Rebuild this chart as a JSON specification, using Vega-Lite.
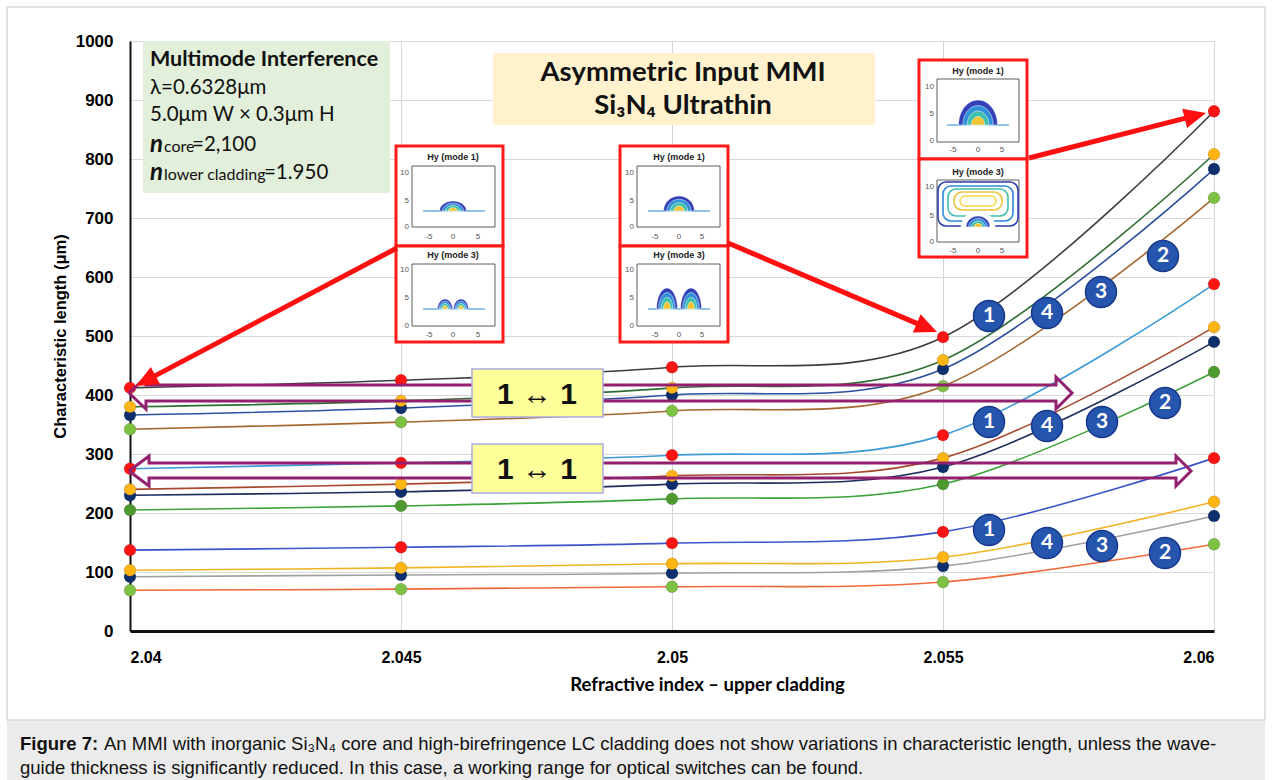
{
  "$schema": "https://vega.github.io/schema/vega-lite/v6.json",
  "width": 1084,
  "height": 590,
  "autosize": {"type": "none"},
  "padding": {"left": 130, "top": 41, "right": 59, "bottom": 149},
  "background": "white",
  "config": {"view": {"stroke": null}},
  "datasets": {
    "series": [
      {"s": "T2", "n": 2.04, "L": 342}, {"s": "T2", "n": 2.045, "L": 354}, {"s": "T2", "n": 2.05, "L": 373}, {"s": "T2", "n": 2.055, "L": 415}, {"s": "T2", "n": 2.06, "L": 734},
      {"s": "T3", "n": 2.04, "L": 366}, {"s": "T3", "n": 2.045, "L": 378}, {"s": "T3", "n": 2.05, "L": 400}, {"s": "T3", "n": 2.055, "L": 444}, {"s": "T3", "n": 2.06, "L": 783},
      {"s": "T4", "n": 2.04, "L": 380}, {"s": "T4", "n": 2.045, "L": 390}, {"s": "T4", "n": 2.05, "L": 412}, {"s": "T4", "n": 2.055, "L": 459}, {"s": "T4", "n": 2.06, "L": 808},
      {"s": "T1", "n": 2.04, "L": 412}, {"s": "T1", "n": 2.045, "L": 425}, {"s": "T1", "n": 2.05, "L": 447}, {"s": "T1", "n": 2.055, "L": 498}, {"s": "T1", "n": 2.06, "L": 881},
      {"s": "M2", "n": 2.04, "L": 205}, {"s": "M2", "n": 2.045, "L": 212}, {"s": "M2", "n": 2.05, "L": 224}, {"s": "M2", "n": 2.055, "L": 249}, {"s": "M2", "n": 2.06, "L": 439},
      {"s": "M3", "n": 2.04, "L": 230}, {"s": "M3", "n": 2.045, "L": 236}, {"s": "M3", "n": 2.05, "L": 249}, {"s": "M3", "n": 2.055, "L": 278}, {"s": "M3", "n": 2.06, "L": 490},
      {"s": "M4", "n": 2.04, "L": 240}, {"s": "M4", "n": 2.045, "L": 249}, {"s": "M4", "n": 2.05, "L": 263}, {"s": "M4", "n": 2.055, "L": 293}, {"s": "M4", "n": 2.06, "L": 515},
      {"s": "M1", "n": 2.04, "L": 275}, {"s": "M1", "n": 2.045, "L": 285}, {"s": "M1", "n": 2.05, "L": 298}, {"s": "M1", "n": 2.055, "L": 332}, {"s": "M1", "n": 2.06, "L": 588},
      {"s": "B2", "n": 2.04, "L": 69}, {"s": "B2", "n": 2.045, "L": 71}, {"s": "B2", "n": 2.05, "L": 75}, {"s": "B2", "n": 2.055, "L": 83}, {"s": "B2", "n": 2.06, "L": 147},
      {"s": "B3", "n": 2.04, "L": 92}, {"s": "B3", "n": 2.045, "L": 95}, {"s": "B3", "n": 2.05, "L": 98}, {"s": "B3", "n": 2.055, "L": 110}, {"s": "B3", "n": 2.06, "L": 195},
      {"s": "B4", "n": 2.04, "L": 103}, {"s": "B4", "n": 2.045, "L": 107}, {"s": "B4", "n": 2.05, "L": 114}, {"s": "B4", "n": 2.055, "L": 125}, {"s": "B4", "n": 2.06, "L": 219},
      {"s": "B1", "n": 2.04, "L": 137}, {"s": "B1", "n": 2.045, "L": 142}, {"s": "B1", "n": 2.05, "L": 149}, {"s": "B1", "n": 2.055, "L": 168}, {"s": "B1", "n": 2.06, "L": 293}
    ]
  },
  "resolve": {"scale": {"fill": "independent", "stroke": "independent", "shape": "independent", "size": "independent"}},
  "layer": [
    {
      "data": {"values": [{"x": 2.037731, "x2": 2.060941, "y": -150.8, "y2": -252.5}]},
      "mark": {"type": "rect", "fill": "#ebebeb", "clip": false},
      "encoding": {
        "x": {"field": "x", "type": "quantitative", "scale": {"domain": [2.04, 2.06], "nice": false, "zero": false},
          "axis": {"values": [2.04, 2.045, 2.05, 2.055, 2.06], "format": ".4~g", "ticks": false, "grid": true, "gridColor": "#d4d4d4", "gridWidth": 1,
            "domainColor": "#111111", "domainWidth": 3, "labelFont": "Liberation Sans", "labelFontWeight": "bold", "labelFontSize": 16, "labelColor": "#000000", "labelPadding": 18,
            "title": "Refractive index – upper cladding", "titleFont": "Lato", "titleFontWeight": "bold", "titleFontSize": 18.5, "titleColor": "#000000",
            "titleX": 577, "titleY": 53, "titleAlign": "center", "titleBaseline": "middle"}},
        "x2": {"field": "x2"},
        "y": {"field": "y", "type": "quantitative", "scale": {"domain": [0, 1000], "nice": false, "zero": false},
          "axis": {"values": [0, 100, 200, 300, 400, 500, 600, 700, 800, 900, 1000], "format": "d", "ticks": false, "grid": true, "gridColor": "#d9d9d9", "gridWidth": 1,
            "domainColor": "#111111", "domainWidth": 2, "labelFont": "Liberation Sans", "labelFontWeight": "bold", "labelFontSize": 17, "labelColor": "#000000", "labelPadding": 17,
            "title": "Characteristic length (μm)", "titleFont": "Liberation Sans", "titleFontWeight": "bold", "titleFontSize": 16.5, "titleColor": "#000000",
            "titleX": -70, "titleY": 295, "titleAngle": 270, "titleAlign": "center", "titleBaseline": "middle"}},
        "y2": {"field": "y2"}
      }
    },
    {
      "data": {"values": [{"x": 2.037731, "x2": 2.060941, "y": 1057.6, "y2": -150.8}]},
      "mark": {"type": "rect", "fill": null, "stroke": "#d9d9d9", "strokeWidth": 1.5, "clip": false},
      "encoding": {
        "x": {"field": "x", "type": "quantitative", "scale": {"domain": [2.04, 2.06], "nice": false, "zero": false}},
        "x2": {"field": "x2"},
        "y": {"field": "y", "type": "quantitative", "scale": {"domain": [0, 1000], "nice": false, "zero": false}},
        "y2": {"field": "y2"}
      }
    },
    {
      "data": {"values": [{"x": 2.04024, "x2": 2.044797, "y": 1000, "y2": 742.4}]},
      "mark": {"type": "rect", "fill": "#e2efda"},
      "encoding": {
        "x": {"field": "x", "type": "quantitative", "scale": {"domain": [2.04, 2.06], "nice": false, "zero": false}},
        "x2": {"field": "x2"},
        "y": {"field": "y", "type": "quantitative", "scale": {"domain": [0, 1000], "nice": false, "zero": false}},
        "y2": {"field": "y2"}
      }
    },
    {
      "data": {"values": [{"x": 2.046697, "x2": 2.053745, "y": 979.7, "y2": 857.6}]},
      "mark": {"type": "rect", "fill": "#fff2cc"},
      "encoding": {
        "x": {"field": "x", "type": "quantitative", "scale": {"domain": [2.04, 2.06], "nice": false, "zero": false}},
        "x2": {"field": "x2"},
        "y": {"field": "y", "type": "quantitative", "scale": {"domain": [0, 1000], "nice": false, "zero": false}},
        "y2": {"field": "y2"}
      }
    },
    {
      "data": {"name": "series"},
      "mark": {"type": "line", "interpolate": "cardinal", "strokeWidth": 1.6},
      "encoding": {
        "x": {"field": "n", "type": "quantitative", "scale": {"domain": [2.04, 2.06], "nice": false, "zero": false}},
        "y": {"field": "L", "type": "quantitative", "scale": {"domain": [0, 1000], "nice": false, "zero": false}},
        "stroke": {"field": "s", "type": "nominal", "legend": null,
          "scale": {"domain": ["T1", "T4", "T3", "T2", "M1", "M4", "M3", "M2", "B1", "B4", "B3", "B2"],
            "range": ["#3d3d3d", "#2f6e33", "#2c4f9e", "#a4672f", "#3d9ad6", "#a84a30", "#1d2d5c", "#3da33a", "#3b55c8", "#f2b324", "#a0a0a0", "#ef6a3a"]}}
      }
    },
    {
      "data": {"name": "series"},
      "mark": {"type": "point", "shape": "circle", "filled": true, "opacity": 1, "size": 140, "stroke": "#000000", "strokeOpacity": 0.15, "strokeWidth": 1},
      "encoding": {
        "x": {"field": "n", "type": "quantitative", "scale": {"domain": [2.04, 2.06], "nice": false, "zero": false}},
        "y": {"field": "L", "type": "quantitative", "scale": {"domain": [0, 1000], "nice": false, "zero": false}},
        "fill": {"field": "s", "type": "nominal", "legend": null,
          "scale": {"domain": ["T1", "T4", "T3", "T2", "M1", "M4", "M3", "M2", "B1", "B4", "B3", "B2"],
            "range": ["#ff1414", "#ffb514", "#0d2f6e", "#7dc142", "#ff1414", "#ffb514", "#0d2f6e", "#4e9a2e", "#ff1414", "#ffb514", "#0d2f6e", "#7dc142"]}}
      }
    },
    {
      "data": {"values": [
        {"id": "a", "o": 0, "x": 2.039982, "y": 403.4}, {"id": "a", "o": 1, "x": 2.040295, "y": 430.5}, {"id": "a", "o": 2, "x": 2.040295, "y": 416.9},
        {"id": "a", "o": 3, "x": 2.057085, "y": 416.9}, {"id": "a", "o": 4, "x": 2.057085, "y": 430.5}, {"id": "a", "o": 5, "x": 2.05738, "y": 403.4},
        {"id": "a", "o": 6, "x": 2.057085, "y": 376.3}, {"id": "a", "o": 7, "x": 2.057085, "y": 389.8}, {"id": "a", "o": 8, "x": 2.040295, "y": 389.8},
        {"id": "a", "o": 9, "x": 2.040295, "y": 376.3}, {"id": "a", "o": 10, "x": 2.039982, "y": 403.4},
        {"id": "b", "o": 0, "x": 2.039982, "y": 271.2}, {"id": "b", "o": 1, "x": 2.040351, "y": 296.6}, {"id": "b", "o": 2, "x": 2.040351, "y": 284.7},
        {"id": "b", "o": 3, "x": 2.059299, "y": 284.7}, {"id": "b", "o": 4, "x": 2.059299, "y": 296.6}, {"id": "b", "o": 5, "x": 2.059576, "y": 271.2},
        {"id": "b", "o": 6, "x": 2.059299, "y": 245.8}, {"id": "b", "o": 7, "x": 2.059299, "y": 259.3}, {"id": "b", "o": 8, "x": 2.040351, "y": 259.3},
        {"id": "b", "o": 9, "x": 2.040351, "y": 245.8}, {"id": "b", "o": 10, "x": 2.039982, "y": 271.2}
      ]},
      "mark": {"type": "line", "color": "#93206f", "strokeWidth": 3, "strokeJoin": "miter", "clip": false},
      "encoding": {
        "x": {"field": "x", "type": "quantitative", "scale": {"domain": [2.04, 2.06], "nice": false, "zero": false}},
        "y": {"field": "y", "type": "quantitative", "scale": {"domain": [0, 1000], "nice": false, "zero": false}},
        "detail": {"field": "id"},
        "order": {"field": "o", "type": "quantitative"}
      }
    },
    {
      "data": {"values": [{"x": 2.04631, "x2": 2.048727, "y": 444.1, "y2": 362.7}, {"x": 2.04631, "x2": 2.048727, "y": 316.9, "y2": 233.9}]},
      "mark": {"type": "rect", "fill": "#ffff99", "stroke": "#aaaadf", "strokeWidth": 1.5},
      "encoding": {
        "x": {"field": "x", "type": "quantitative", "scale": {"domain": [2.04, 2.06], "nice": false, "zero": false}},
        "x2": {"field": "x2"},
        "y": {"field": "y", "type": "quantitative", "scale": {"domain": [0, 1000], "nice": false, "zero": false}},
        "y2": {"field": "y2"}
      }
    },
    {
      "data": {"values": [{"t": "1 ↔ 1", "x": 2.047509, "y": 400.0}, {"t": "1 ↔ 1", "x": 2.047509, "y": 272.9}]},
      "mark": {"type": "text", "font": "Liberation Sans", "fontWeight": "bold", "fontSize": 30, "color": "#111111", "align": "center", "baseline": "middle"},
      "encoding": {
        "x": {"field": "x", "type": "quantitative", "scale": {"domain": [2.04, 2.06], "nice": false, "zero": false}},
        "y": {"field": "y", "type": "quantitative", "scale": {"domain": [0, 1000], "nice": false, "zero": false}},
        "text": {"field": "t"}
      }
    },
    {
      "data": {"name": "badges", "values": [
        {"t": "1", "x": 2.055849, "y": 533.9}, {"t": "4", "x": 2.056919, "y": 539.0}, {"t": "3", "x": 2.057915, "y": 574.6}, {"t": "2", "x": 2.059059, "y": 635.6},
        {"t": "1", "x": 2.055849, "y": 354.2}, {"t": "4", "x": 2.056919, "y": 347.5}, {"t": "3", "x": 2.057934, "y": 354.2}, {"t": "2", "x": 2.059096, "y": 386.4},
        {"t": "1", "x": 2.055849, "y": 171.2}, {"t": "4", "x": 2.056919, "y": 149.2}, {"t": "3", "x": 2.057934, "y": 144.1}, {"t": "2", "x": 2.059096, "y": 132.2}
      ]},
      "mark": {"type": "point", "shape": "circle", "filled": true, "opacity": 1, "size": 960, "fill": "#2655ad", "stroke": "#17388a", "strokeWidth": 1.5},
      "encoding": {
        "x": {"field": "x", "type": "quantitative", "scale": {"domain": [2.04, 2.06], "nice": false, "zero": false}},
        "y": {"field": "y", "type": "quantitative", "scale": {"domain": [0, 1000], "nice": false, "zero": false}}
      }
    },
    {
      "data": {"name": "badges"},
      "mark": {"type": "text", "font": "Lato", "fontWeight": "bold", "fontSize": 21, "color": "#ffffff", "align": "center", "baseline": "middle"},
      "encoding": {
        "x": {"field": "x", "type": "quantitative", "scale": {"domain": [2.04, 2.06], "nice": false, "zero": false}},
        "y": {"field": "y", "type": "quantitative", "scale": {"domain": [0, 1000], "nice": false, "zero": false}},
        "text": {"field": "t"}
      }
    },
    {
      "data": {"values": [
        {"x": 2.044908, "x2": 2.046882, "y": 822.0, "y2": 652.5}, {"x": 2.044908, "x2": 2.046882, "y": 652.5, "y2": 489.8},
        {"x": 2.049041, "x2": 2.051033, "y": 822.0, "y2": 652.5}, {"x": 2.049041, "x2": 2.051033, "y": 652.5, "y2": 489.8},
        {"x": 2.054557, "x2": 2.05655, "y": 967.8, "y2": 800.0}, {"x": 2.054557, "x2": 2.05655, "y": 800.0, "y2": 633.9}
      ]},
      "mark": {"type": "rect", "fill": "#ffffff", "stroke": "#ff1a1a", "strokeWidth": 3},
      "encoding": {
        "x": {"field": "x", "type": "quantitative", "scale": {"domain": [2.04, 2.06], "nice": false, "zero": false}},
        "x2": {"field": "x2"},
        "y": {"field": "y", "type": "quantitative", "scale": {"domain": [0, 1000], "nice": false, "zero": false}},
        "y2": {"field": "y2"}
      }
    },
    {
      "data": {"values": [
        {"x": 2.045203, "x2": 2.046734, "y": 788.1, "y2": 684.7}, {"x": 2.045203, "x2": 2.046734, "y": 622.0, "y2": 516.9},
        {"x": 2.049354, "x2": 2.050886, "y": 788.1, "y2": 684.7}, {"x": 2.049354, "x2": 2.050886, "y": 622.0, "y2": 516.9},
        {"x": 2.054889, "x2": 2.056402, "y": 935.6, "y2": 828.8}, {"x": 2.054889, "x2": 2.056402, "y": 764.4, "y2": 659.3}
      ]},
      "mark": {"type": "rect", "fill": null, "stroke": "#4a4a4a", "strokeWidth": 0.9},
      "encoding": {
        "x": {"field": "x", "type": "quantitative", "scale": {"domain": [2.04, 2.06], "nice": false, "zero": false}},
        "x2": {"field": "x2"},
        "y": {"field": "y", "type": "quantitative", "scale": {"domain": [0, 1000], "nice": false, "zero": false}},
        "y2": {"field": "y2"}
      }
    },
    {
      "data": {"values": [
        {"x": 2.045406, "x2": 2.04655, "y": 711.9}, {"x": 2.045406, "x2": 2.04655, "y": 545.8},
        {"x": 2.049557, "x2": 2.050701, "y": 711.9}, {"x": 2.049557, "x2": 2.050701, "y": 545.8},
        {"x": 2.055074, "x2": 2.056218, "y": 857.6}
      ]},
      "mark": {"type": "rule", "color": "#6aaee0", "strokeWidth": 1.3},
      "encoding": {
        "x": {"field": "x", "type": "quantitative", "scale": {"domain": [2.04, 2.06], "nice": false, "zero": false}},
        "x2": {"field": "x2"},
        "y": {"field": "y", "type": "quantitative", "scale": {"domain": [0, 1000], "nice": false, "zero": false}}
      }
    },
    {
      "data": {"values": [
        {"ring": "r0", "x": 2.054908, "x2": 2.056384, "y": 761.0, "y2": 686.4},
        {"ring": "r1", "x": 2.055000, "x2": 2.056292, "y": 754.2, "y2": 694.9},
        {"ring": "r2", "x": 2.055092, "x2": 2.056199, "y": 749.2, "y2": 703.4},
        {"ring": "r3", "x": 2.055203, "x2": 2.056089, "y": 744.1, "y2": 713.6},
        {"ring": "r4", "x": 2.055314, "x2": 2.055978, "y": 737.3, "y2": 720.3}
      ]},
      "mark": {"type": "rect", "fill": null, "strokeWidth": 1.6, "cornerRadius": 8},
      "encoding": {
        "x": {"field": "x", "type": "quantitative", "scale": {"domain": [2.04, 2.06], "nice": false, "zero": false}},
        "x2": {"field": "x2"},
        "y": {"field": "y", "type": "quantitative", "scale": {"domain": [0, 1000], "nice": false, "zero": false}},
        "y2": {"field": "y2"},
        "stroke": {"field": "ring", "type": "nominal", "legend": null,
          "scale": {"domain": ["r0", "r1", "r2", "r3", "r4"], "range": ["#2b3fb0", "#2e8bd6", "#3fbfae", "#e8c43a", "#f5d84a"]}}
      }
    },
    {
      "data": {"values": [
        {"k": "A1-0", "ring": "r0", "x": 2.045959, "y": 711.9}, {"k": "A1-1", "ring": "r1", "x": 2.045959, "y": 711.9}, {"k": "A1-2", "ring": "r2", "x": 2.045959, "y": 711.9}, {"k": "A1-3", "ring": "r3", "x": 2.045959, "y": 711.9},
        {"k": "A2-0", "ring": "r0", "x": 2.045812, "y": 545.8}, {"k": "A2-1", "ring": "r1", "x": 2.045812, "y": 545.8}, {"k": "A2-2", "ring": "r2", "x": 2.045812, "y": 545.8}, {"k": "A2-3", "ring": "r3", "x": 2.045812, "y": 545.8},
        {"k": "A2-0", "ring": "r0", "x": 2.046107, "y": 545.8}, {"k": "A2-1", "ring": "r1", "x": 2.046107, "y": 545.8}, {"k": "A2-2", "ring": "r2", "x": 2.046107, "y": 545.8}, {"k": "A2-3", "ring": "r3", "x": 2.046107, "y": 545.8},
        {"k": "B1-0", "ring": "r0", "x": 2.050129, "y": 711.9}, {"k": "B1-1", "ring": "r1", "x": 2.050129, "y": 711.9}, {"k": "B1-2", "ring": "r2", "x": 2.050129, "y": 711.9}, {"k": "B1-3", "ring": "r3", "x": 2.050129, "y": 711.9},
        {"k": "B2-0", "ring": "r0", "x": 2.049908, "y": 545.8}, {"k": "B2-1", "ring": "r1", "x": 2.049908, "y": 545.8}, {"k": "B2-2", "ring": "r2", "x": 2.049908, "y": 545.8}, {"k": "B2-3", "ring": "r3", "x": 2.049908, "y": 545.8},
        {"k": "B2-0", "ring": "r0", "x": 2.050351, "y": 545.8}, {"k": "B2-1", "ring": "r1", "x": 2.050351, "y": 545.8}, {"k": "B2-2", "ring": "r2", "x": 2.050351, "y": 545.8}, {"k": "B2-3", "ring": "r3", "x": 2.050351, "y": 545.8},
        {"k": "C1-0", "ring": "r0", "x": 2.055646, "y": 857.6}, {"k": "C1-1", "ring": "r1", "x": 2.055646, "y": 857.6}, {"k": "C1-2", "ring": "r2", "x": 2.055646, "y": 857.6}, {"k": "C1-3", "ring": "r3", "x": 2.055646, "y": 857.6},
        {"k": "C3-bg", "ring": "bg", "x": 2.055646, "y": 684.7}, {"k": "C3-0", "ring": "r0", "x": 2.055646, "y": 684.7}, {"k": "C3-1", "ring": "r1", "x": 2.055646, "y": 684.7}, {"k": "C3-2", "ring": "r2", "x": 2.055646, "y": 684.7}, {"k": "C3-3", "ring": "r3", "x": 2.055646, "y": 684.7}
      ]},
      "mark": {"type": "point", "filled": true, "opacity": 1, "size": 100, "stroke": "#ffffff", "strokeWidth": 0.5},
      "encoding": {
        "x": {"field": "x", "type": "quantitative", "scale": {"domain": [2.04, 2.06], "nice": false, "zero": false}},
        "y": {"field": "y", "type": "quantitative", "scale": {"domain": [0, 1000], "nice": false, "zero": false}},
        "fill": {"field": "ring", "type": "nominal", "legend": null,
          "scale": {"domain": ["bg", "r0", "r1", "r2", "r3"], "range": ["#ffffff", "#3340b8", "#2f8fd8", "#3fc0ad", "#f0c332"]}},
        "shape": {"field": "k", "type": "nominal", "legend": null,
          "scale": {
            "domain": ["A1-0", "A1-1", "A1-2", "A1-3", "A2-0", "A2-1", "A2-2", "A2-3", "B1-0", "B1-1", "B1-2", "B1-3", "B2-0", "B2-1", "B2-2", "B2-3", "C1-0", "C1-1", "C1-2", "C1-3", "C3-bg", "C3-0", "C3-1", "C3-2", "C3-3"],
            "range": [
              "M-2.7 0C-2.7 -1.1 -1.49 -2 0 -2C1.49 -2 2.7 -1.1 2.7 0Z",
              "M-2.11 0C-2.11 -0.86 -1.16 -1.56 0 -1.56C1.16 -1.56 2.11 -0.86 2.11 0Z",
              "M-1.51 0C-1.51 -0.62 -0.83 -1.12 0 -1.12C0.83 -1.12 1.51 -0.62 1.51 0Z",
              "M-0.92 0C-0.92 -0.38 -0.51 -0.68 0 -0.68C0.51 -0.68 0.92 -0.38 0.92 0Z",
              "M-1.5 0C-1.5 -1.1 -0.83 -2 0 -2C0.83 -2 1.5 -1.1 1.5 0Z",
              "M-1.17 0C-1.17 -0.86 -0.65 -1.56 0 -1.56C0.65 -1.56 1.17 -0.86 1.17 0Z",
              "M-0.84 0C-0.84 -0.62 -0.46 -1.12 0 -1.12C0.46 -1.12 0.84 -0.62 0.84 0Z",
              "M-0.51 0C-0.51 -0.38 -0.28 -0.68 0 -0.68C0.28 -0.68 0.51 -0.38 0.51 0Z",
              "M-3.1 0C-3.1 -1.66 -1.71 -3 0 -3C1.71 -3 3.1 -1.66 3.1 0Z",
              "M-2.42 0C-2.42 -1.29 -1.34 -2.34 0 -2.34C1.34 -2.34 2.42 -1.29 2.42 0Z",
              "M-1.74 0C-1.74 -0.93 -0.96 -1.68 0 -1.68C0.96 -1.68 1.74 -0.93 1.74 0Z",
              "M-1.05 0C-1.05 -0.56 -0.58 -1.02 0 -1.02C0.58 -1.02 1.05 -0.56 1.05 0Z",
              "M-2.1 0C-2.1 -2.32 -1.16 -4.2 0 -4.2C1.16 -4.2 2.1 -2.32 2.1 0Z",
              "M-1.64 0C-1.64 -1.81 -0.9 -3.28 0 -3.28C0.9 -3.28 1.64 -1.81 1.64 0Z",
              "M-1.18 0C-1.18 -1.3 -0.65 -2.35 0 -2.35C0.65 -2.35 1.18 -1.3 1.18 0Z",
              "M-0.71 0C-0.71 -0.79 -0.39 -1.43 0 -1.43C0.39 -1.43 0.71 -0.79 0.71 0Z",
              "M-3.9 0C-3.9 -2.76 -2.15 -5 0 -5C2.15 -5 3.9 -2.76 3.9 0Z",
              "M-3.04 0C-3.04 -2.15 -1.68 -3.9 0 -3.9C1.68 -3.9 3.04 -2.15 3.04 0Z",
              "M-2.18 0C-2.18 -1.55 -1.2 -2.8 0 -2.8C1.2 -2.8 2.18 -1.55 2.18 0Z",
              "M-1.33 0C-1.33 -0.94 -0.73 -1.7 0 -1.7C0.73 -1.7 1.33 -0.94 1.33 0Z",
              "M-3.4 0C-3.4 -1.77 -1.88 -3.2 0 -3.2C1.88 -3.2 3.4 -1.77 3.4 0Z",
              "M-2.4 0C-2.4 -1.21 -1.32 -2.2 0 -2.2C1.32 -2.2 2.4 -1.21 2.4 0Z",
              "M-1.87 0C-1.87 -0.95 -1.03 -1.72 0 -1.72C1.03 -1.72 1.87 -0.95 1.87 0Z",
              "M-1.34 0C-1.34 -0.68 -0.74 -1.23 0 -1.23C0.74 -1.23 1.34 -0.68 1.34 0Z",
              "M-0.82 0C-0.82 -0.41 -0.45 -0.75 0 -0.75C0.45 -0.75 0.82 -0.41 0.82 0Z"
            ]}}
      }
    },
    {
      "data": {"values": [
        {"t": "Hy (mode 1)", "x": 2.045959, "y": 803.4}, {"t": "Hy (mode 3)", "x": 2.045959, "y": 637.3},
        {"t": "Hy (mode 1)", "x": 2.050129, "y": 803.4}, {"t": "Hy (mode 3)", "x": 2.050129, "y": 637.3},
        {"t": "Hy (mode 1)", "x": 2.055646, "y": 949.2}, {"t": "Hy (mode 3)", "x": 2.055646, "y": 778.0}
      ]},
      "mark": {"type": "text", "font": "Liberation Sans", "fontWeight": "bold", "fontSize": 9, "color": "#222222", "align": "center", "baseline": "middle"},
      "encoding": {
        "x": {"field": "x", "type": "quantitative", "scale": {"domain": [2.04, 2.06], "nice": false, "zero": false}},
        "y": {"field": "y", "type": "quantitative", "scale": {"domain": [0, 1000], "nice": false, "zero": false}},
        "text": {"field": "t"}
      }
    },
    {
      "data": {"values": [
        {"t": "10", "x": 2.045148, "y": 776.3}, {"t": "5", "x": 2.045148, "y": 728.8}, {"t": "0", "x": 2.045148, "y": 684.7},
        {"t": "10", "x": 2.045148, "y": 611.9}, {"t": "5", "x": 2.045148, "y": 564.4}, {"t": "0", "x": 2.045148, "y": 516.9},
        {"t": "10", "x": 2.049299, "y": 776.3}, {"t": "5", "x": 2.049299, "y": 728.8}, {"t": "0", "x": 2.049299, "y": 684.7},
        {"t": "10", "x": 2.049299, "y": 611.9}, {"t": "5", "x": 2.049299, "y": 564.4}, {"t": "0", "x": 2.049299, "y": 516.9},
        {"t": "10", "x": 2.054834, "y": 922.0}, {"t": "5", "x": 2.054834, "y": 876.3}, {"t": "0", "x": 2.054834, "y": 830.5},
        {"t": "10", "x": 2.054834, "y": 752.5}, {"t": "5", "x": 2.054834, "y": 703.4}, {"t": "0", "x": 2.054834, "y": 659.3}
      ]},
      "mark": {"type": "text", "font": "Liberation Sans", "fontSize": 8, "color": "#555555", "align": "right", "baseline": "middle"},
      "encoding": {
        "x": {"field": "x", "type": "quantitative", "scale": {"domain": [2.04, 2.06], "nice": false, "zero": false}},
        "y": {"field": "y", "type": "quantitative", "scale": {"domain": [0, 1000], "nice": false, "zero": false}},
        "text": {"field": "t"}
      }
    },
    {
      "data": {"values": [
        {"t": "-5", "x": 2.045517, "y": 667.8}, {"t": "0", "x": 2.045959, "y": 667.8}, {"t": "5", "x": 2.046421, "y": 667.8},
        {"t": "-5", "x": 2.045517, "y": 501.7}, {"t": "0", "x": 2.045959, "y": 501.7}, {"t": "5", "x": 2.046421, "y": 501.7},
        {"t": "-5", "x": 2.049686, "y": 667.8}, {"t": "0", "x": 2.050129, "y": 667.8}, {"t": "5", "x": 2.050554, "y": 667.8},
        {"t": "-5", "x": 2.049686, "y": 501.7}, {"t": "0", "x": 2.050129, "y": 501.7}, {"t": "5", "x": 2.050554, "y": 501.7},
        {"t": "-5", "x": 2.055184, "y": 815.3}, {"t": "0", "x": 2.055646, "y": 815.3}, {"t": "5", "x": 2.056089, "y": 815.3},
        {"t": "-5", "x": 2.055184, "y": 644.1}, {"t": "0", "x": 2.055646, "y": 644.1}, {"t": "5", "x": 2.056089, "y": 644.1}
      ]},
      "mark": {"type": "text", "font": "Liberation Sans", "fontSize": 8, "color": "#555555", "align": "center", "baseline": "middle"},
      "encoding": {
        "x": {"field": "x", "type": "quantitative", "scale": {"domain": [2.04, 2.06], "nice": false, "zero": false}},
        "y": {"field": "y", "type": "quantitative", "scale": {"domain": [0, 1000], "nice": false, "zero": false}},
        "text": {"field": "t"}
      }
    },
    {
      "data": {"values": [
        {"x": 2.044926, "y": 649.2, "x2": 2.040354, "y2": 427.3},
        {"x": 2.051033, "y": 657.6, "x2": 2.054635, "y2": 516.8},
        {"x": 2.056587, "y": 801.7, "x2": 2.059585, "y2": 871.7}
      ]},
      "mark": {"type": "rule", "color": "#ff1010", "strokeWidth": 5},
      "encoding": {
        "x": {"field": "x", "type": "quantitative", "scale": {"domain": [2.04, 2.06], "nice": false, "zero": false}},
        "x2": {"field": "x2"},
        "y": {"field": "y", "type": "quantitative", "scale": {"domain": [0, 1000], "nice": false, "zero": false}},
        "y2": {"field": "y2"}
      }
    },
    {
      "data": {"values": [{"x": 2.040111, "y": 415.3}]},
      "mark": {"type": "point", "shape": "M0 0L-2 -0.9L-2 0.9Z", "size": 484, "angle": 151.97, "filled": true, "opacity": 1, "color": "#ff1010"},
      "encoding": {
        "x": {"field": "x", "type": "quantitative", "scale": {"domain": [2.04, 2.06], "nice": false, "zero": false}},
        "y": {"field": "y", "type": "quantitative", "scale": {"domain": [0, 1000], "nice": false, "zero": false}}
      }
    },
    {
      "data": {"values": [{"x": 2.054889, "y": 506.8}]},
      "mark": {"type": "point", "shape": "M0 0L-2 -0.9L-2 0.9Z", "size": 484, "angle": 23.07, "filled": true, "opacity": 1, "color": "#ff1010"},
      "encoding": {
        "x": {"field": "x", "type": "quantitative", "scale": {"domain": [2.04, 2.06], "nice": false, "zero": false}},
        "y": {"field": "y", "type": "quantitative", "scale": {"domain": [0, 1000], "nice": false, "zero": false}}
      }
    },
    {
      "data": {"values": [{"x": 2.059852, "y": 878.0}]},
      "mark": {"type": "point", "shape": "M0 0L-2 -0.9L-2 0.9Z", "size": 484, "angle": 345.89, "filled": true, "opacity": 1, "color": "#ff1010"},
      "encoding": {
        "x": {"field": "x", "type": "quantitative", "scale": {"domain": [2.04, 2.06], "nice": false, "zero": false}},
        "y": {"field": "y", "type": "quantitative", "scale": {"domain": [0, 1000], "nice": false, "zero": false}}
      }
    },
    {
      "data": {"values": [{"t": "Multimode Interference", "x": 2.040369, "y": 967.8}]},
      "mark": {"type": "text", "font": "Lato", "fontWeight": "bold", "fontSize": 21.5, "color": "#111111", "align": "left", "baseline": "middle"},
      "encoding": {
        "x": {"field": "x", "type": "quantitative", "scale": {"domain": [2.04, 2.06], "nice": false, "zero": false}},
        "y": {"field": "y", "type": "quantitative", "scale": {"domain": [0, 1000], "nice": false, "zero": false}},
        "text": {"field": "t"}
      }
    },
    {
      "data": {"values": [
        {"t": "λ=0.6328μm", "x": 2.040369, "y": 920.3},
        {"t": "5.0μm W × 0.3μm H", "x": 2.040369, "y": 874.6},
        {"t": "=2,100", "x": 2.041144, "y": 823.7},
        {"t": "=1.950", "x": 2.042472, "y": 776.3}
      ]},
      "mark": {"type": "text", "font": "Lato", "fontSize": 20.5, "color": "#111111", "align": "left", "baseline": "middle"},
      "encoding": {
        "x": {"field": "x", "type": "quantitative", "scale": {"domain": [2.04, 2.06], "nice": false, "zero": false}},
        "y": {"field": "y", "type": "quantitative", "scale": {"domain": [0, 1000], "nice": false, "zero": false}},
        "text": {"field": "t"}
      }
    },
    {
      "data": {"values": [{"t": "n", "x": 2.040369, "y": 823.7}, {"t": "n", "x": 2.040369, "y": 776.3}]},
      "mark": {"type": "text", "font": "Lato", "fontWeight": "bold", "fontStyle": "italic", "fontSize": 24, "color": "#111111", "align": "left", "baseline": "middle"},
      "encoding": {
        "x": {"field": "x", "type": "quantitative", "scale": {"domain": [2.04, 2.06], "nice": false, "zero": false}},
        "y": {"field": "y", "type": "quantitative", "scale": {"domain": [0, 1000], "nice": false, "zero": false}},
        "text": {"field": "t"}
      }
    },
    {
      "data": {"values": [{"t": "core", "x": 2.040627, "y": 820.3}, {"t": "lower cladding", "x": 2.040627, "y": 772.9}]},
      "mark": {"type": "text", "font": "Lato", "fontSize": 16, "color": "#111111", "align": "left", "baseline": "middle"},
      "encoding": {
        "x": {"field": "x", "type": "quantitative", "scale": {"domain": [2.04, 2.06], "nice": false, "zero": false}},
        "y": {"field": "y", "type": "quantitative", "scale": {"domain": [0, 1000], "nice": false, "zero": false}},
        "text": {"field": "t"}
      }
    },
    {
      "data": {"values": [{"t": "Asymmetric Input MMI", "x": 2.050203, "y": 945.8}, {"t": "Si₃N₄ Ultrathin", "x": 2.050203, "y": 889.8}]},
      "mark": {"type": "text", "font": "Lato", "fontWeight": "bold", "fontSize": 27.5, "color": "#111111", "align": "center", "baseline": "middle"},
      "encoding": {
        "x": {"field": "x", "type": "quantitative", "scale": {"domain": [2.04, 2.06], "nice": false, "zero": false}},
        "y": {"field": "y", "type": "quantitative", "scale": {"domain": [0, 1000], "nice": false, "zero": false}},
        "text": {"field": "t"}
      }
    },
    {
      "data": {"values": [{"t": "Figure 7:", "x": 2.03797, "y": -191.5}]},
      "mark": {"type": "text", "font": "Liberation Sans", "fontWeight": "bold", "fontSize": 18.5, "color": "#111111", "align": "left", "baseline": "middle", "clip": false},
      "encoding": {
        "x": {"field": "x", "type": "quantitative", "scale": {"domain": [2.04, 2.06], "nice": false, "zero": false}},
        "y": {"field": "y", "type": "quantitative", "scale": {"domain": [0, 1000], "nice": false, "zero": false}},
        "text": {"field": "t"}
      }
    },
    {
      "data": {"values": [
        {"t": "An MMI with inorganic Si₃N₄ core and high-birefringence LC cladding does not show variations in characteristic length, unless the wave-", "x": 2.03952, "y": -191.5},
        {"t": "guide thickness is significantly reduced. In this case, a working range for optical switches can be found.", "x": 2.03797, "y": -232.2}
      ]},
      "mark": {"type": "text", "font": "Liberation Sans", "fontSize": 18.5, "color": "#111111", "align": "left", "baseline": "middle", "clip": false},
      "encoding": {
        "x": {"field": "x", "type": "quantitative", "scale": {"domain": [2.04, 2.06], "nice": false, "zero": false}},
        "y": {"field": "y", "type": "quantitative", "scale": {"domain": [0, 1000], "nice": false, "zero": false}},
        "text": {"field": "t"}
      }
    }
  ]
}
